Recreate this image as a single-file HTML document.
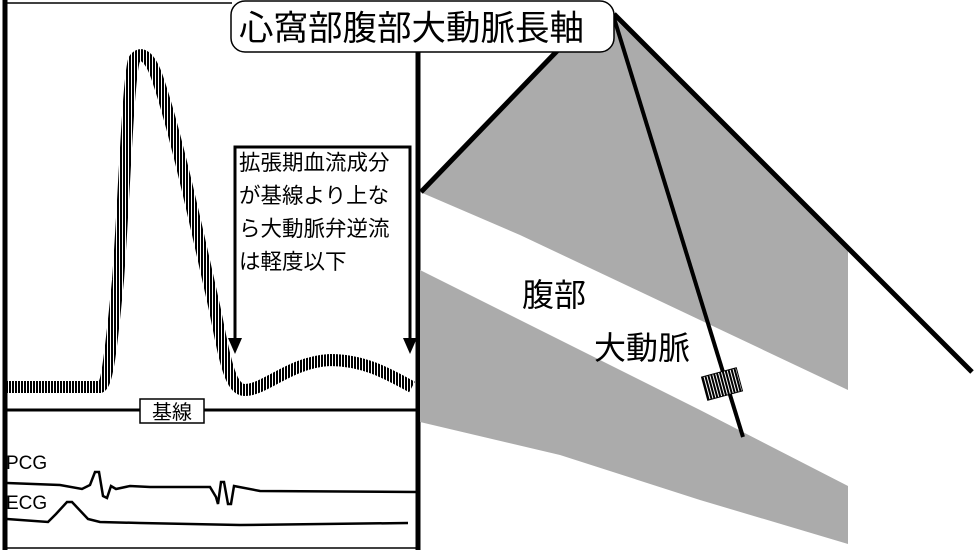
<!DOCTYPE html>
<html><head><meta charset="utf-8"><style>
html,body{margin:0;padding:0;background:#fff;}
svg{display:block;}
text{font-family:"Liberation Sans","Noto Sans CJK JP",sans-serif;fill:#000;}
</style></head><body>
<svg width="974" height="550" viewBox="0 0 974 550" xmlns="http://www.w3.org/2000/svg">
<defs>
<pattern id="vs" width="3" height="3" patternUnits="userSpaceOnUse">
<rect width="3" height="3" fill="#fff"/>
<rect x="0" y="0" width="2" height="3" fill="#000"/>
</pattern>
</defs>
<line x1="5" y1="0" x2="5" y2="550" stroke="#000" stroke-width="5"/>
<line x1="3" y1="3" x2="232" y2="3" stroke="#000" stroke-width="1.5"/>
<line x1="3" y1="548" x2="418" y2="548" stroke="#000" stroke-width="1.5"/>
<line x1="418" y1="50" x2="418" y2="550" stroke="#000" stroke-width="5"/>
<line x1="5" y1="410" x2="418" y2="410" stroke="#000" stroke-width="3"/>
<rect x="140" y="399" width="64" height="24" fill="#fff" stroke="#000" stroke-width="1.5"/>
<text x="172" y="419" font-size="20" text-anchor="middle">基線</text>
<path d="M7,387 L100,387 C108,385 112,340 118,280 C124,200 128,80 134,60 C140,50 150,55 158,80 C175,130 195,220 215,310 C225,360 230,390 245,390 C265,390 290,362 330,360 C365,360 390,375 412,387" fill="none" stroke="url(#vs)" stroke-width="12"/>
<polyline points="235,340 235,147 410,147 410,340" fill="none" stroke="#000" stroke-width="3"/>
<polygon points="228,338 242,338 235,354" fill="#000"/>
<polygon points="403,338 417,338 410,354" fill="#000"/>
<text font-size="21.5" x="239" y="170">拡張期血流成分</text>
<text font-size="21.5" x="239" y="203">が基線より上な</text>
<text font-size="21.5" x="239" y="236">ら大動脈弁逆流</text>
<text font-size="21.5" x="239" y="269">は軽度以下</text>
<text x="6" y="469" font-size="19">PCG</text>
<text x="6" y="509" font-size="19">ECG</text>
<polyline points="7,483 60,485 82,489 90,485 95,472 99,472 103,496 107,498 111,486 116,489 130,486 150,487 210,487 216,497 218,504 221,482 224,482 228,504 231,504 234,486 260,491 418,492" fill="none" stroke="#000" stroke-width="2.5"/>
<polyline points="7,519 48,522 56,514 67,502 72,502 88,519 100,522 140,523 240,525 408,523" fill="none" stroke="#000" stroke-width="2.5"/>
<polygon points="420,192 555,52 614,18 848,245 848,390 700,320 520,235" fill="#ababab"/>
<polygon points="420,270 560,340 700,410 848,486 848,544 700,500 560,455 420,422" fill="#ababab"/>
<line x1="421" y1="192" x2="558" y2="50" stroke="#000" stroke-width="5"/>
<line x1="614" y1="14" x2="972" y2="372" stroke="#000" stroke-width="5"/>
<line x1="614" y1="18" x2="743" y2="437" stroke="#000" stroke-width="4"/>
<g transform="translate(722,384) rotate(-15)">
<rect x="-18" y="-12" width="36" height="24" fill="url(#vs)" stroke="#000" stroke-width="1"/>
</g>
<text x="522" y="306" font-size="32">腹部</text>
<text x="594" y="359" font-size="32">大動脈</text>
<rect x="231" y="1" width="383" height="51" rx="14" fill="#fff" stroke="#000" stroke-width="1.5"/>
<text x="239" y="40" font-size="34.5">心窩部腹部大動脈長軸</text>
</svg>
</body></html>
